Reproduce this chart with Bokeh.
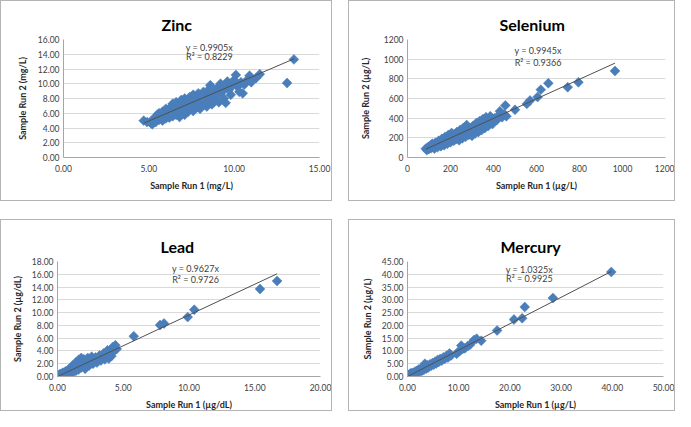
import math
from bokeh.plotting import figure
from bokeh.models import Range1d, FixedTicker, NumeralTickFormatter, Label
from bokeh.layouts import row, column
from bokeh.embed import file_html
from bokeh.resources import INLINE

# ---------------- data ----------------
zinc_x = [4.7, 4.9, 5.1, 5.2, 5.2, 5.4, 5.4, 5.5, 5.6, 5.6, 5.7, 5.8, 5.8, 5.9, 6.0, 6.0, 6.0, 6.1, 6.2, 6.2,
          6.3, 6.3, 6.4, 6.4, 6.5, 6.5, 6.6, 6.6, 6.7, 6.7, 6.8, 6.8, 6.9, 6.9, 7.0, 7.0, 7.1, 7.1, 7.2, 7.2,
          7.3, 7.4, 7.4, 7.5, 7.5, 7.6, 7.6, 7.7, 7.8, 7.8, 7.9, 8.0, 8.0, 8.1, 8.2, 8.2, 8.3, 8.4, 8.4, 8.5,
          8.5, 8.6, 8.6, 8.7, 8.8, 8.9, 9.0, 9.0, 9.1, 9.2, 9.3, 9.4, 9.4, 9.5, 9.6, 9.7, 9.8, 9.9, 10.0, 10.1,
          10.2, 10.3, 10.4, 10.5, 10.6, 10.8, 10.9, 11.0, 11.3, 11.5, 13.1, 13.5]
zinc_y = [5.0, 4.8, 4.7, 4.5, 5.1, 4.8, 5.4, 5.8, 5.1, 6.0, 5.4, 5.0, 6.2, 5.6, 5.3, 6.0, 6.6, 5.8, 6.4, 5.4,
          6.9, 6.0, 5.6, 7.3, 6.3, 6.8, 5.8, 7.5, 6.2, 7.0, 5.5, 6.6, 7.8, 6.0, 7.2, 6.4, 8.0, 5.8, 6.8, 7.5,
          6.2, 8.2, 7.0, 6.6, 7.8, 8.5, 6.3, 7.3, 8.0, 6.8, 8.7, 7.5, 6.6, 8.3, 7.1, 8.9, 7.8, 6.9, 8.5, 9.2,
          7.4, 9.8, 8.1, 7.2, 8.8, 7.8, 9.4, 8.4, 7.5, 10.0, 8.9, 9.7, 8.0, 7.4, 10.3, 9.2, 8.5, 9.8, 10.5, 11.2,
          9.6, 8.9, 10.2, 8.7, 9.9, 10.6, 11.1, 10.2, 10.8, 11.3, 10.1, 13.3]

sel_x = [85, 90, 95, 100, 105, 110, 115, 120, 125, 130, 135, 140, 145, 150, 155, 160, 165, 170, 175, 180,
         185, 190, 195, 200, 205, 210, 215, 220, 225, 230, 235, 240, 245, 250, 255, 260, 265, 270, 275, 280,
         285, 290, 295, 300, 305, 310, 315, 320, 325, 330, 335, 340, 345, 350, 355, 360, 365, 370, 375, 385,
         390, 395, 405, 415, 425, 430, 440, 450, 455, 460, 500, 555, 570, 605, 620, 655, 745, 795, 965]
sel_y = [90, 75, 105, 85, 120, 95, 140, 110, 90, 150, 125, 105, 170, 135, 115, 190, 150, 125, 210, 165,
         140, 230, 185, 155, 250, 200, 170, 240, 185, 260, 205, 175, 280, 220, 195, 300, 240, 210, 330, 260,
         230, 300, 250, 220, 320, 270, 245, 350, 290, 260, 370, 310, 280, 390, 330, 300, 410, 350, 320, 420,
         370, 340, 400, 380, 430, 470, 410, 440, 530, 420, 485, 545, 580, 615, 690, 755, 715, 765, 880]

lead_x = [0.1, 0.2, 0.2, 0.3, 0.4, 0.4, 0.5, 0.6, 0.6, 0.7, 0.8, 0.8, 0.9, 1.0, 1.0, 1.1, 1.2, 1.2, 1.3, 1.4,
          1.4, 1.5, 1.6, 1.6, 1.7, 1.8, 1.8, 1.9, 2.0, 2.0, 2.1, 2.2, 2.3, 2.4, 2.5, 2.6, 2.7, 2.8, 2.9, 3.0,
          3.1, 3.2, 3.3, 3.4, 3.5, 3.6, 3.7, 3.8, 3.9, 4.0, 4.1, 4.2, 4.3, 4.4, 4.5, 5.8, 7.8, 8.1, 9.9, 10.4,
          15.4, 16.7]
lead_y = [0.2, 0.05, 0.4, 0.2, 0.6, 0.1, 0.4, 0.8, 0.2, 0.5, 1.0, 0.3, 0.7, 1.4, 0.5, 1.0, 1.8, 0.7, 1.3, 2.2,
          0.9, 1.6, 2.6, 1.1, 2.0, 2.9, 1.4, 2.3, 1.7, 2.7, 1.2, 2.1, 2.9, 1.7, 2.4, 3.1, 2.0, 2.6, 3.0, 2.2,
          2.8, 3.3, 2.5, 3.0, 3.6, 2.7, 3.3, 4.1, 2.8, 3.6, 3.2, 4.6, 4.0, 4.9, 4.3, 6.3, 8.05, 8.3, 9.3, 10.45,
          13.7, 14.95]

hg_x = [0.1, 0.2, 0.3, 0.4, 0.5, 0.6, 0.8, 0.9, 1.0, 1.2, 1.3, 1.5, 1.6, 1.8, 2.0, 2.2, 2.4, 2.6, 2.8, 3.0,
        3.2, 3.4, 3.5, 3.7, 3.9, 4.1, 4.4, 4.6, 4.9, 5.1, 5.4, 5.6, 5.9, 6.1, 6.4, 6.7, 7.0, 7.3, 7.6, 7.9,
        8.2, 8.5, 9.6, 9.9, 10.2, 10.5, 10.8, 11.2, 11.8, 12.2, 13.0, 13.5, 14.4, 17.5, 20.8, 22.4, 22.9, 28.4,
        39.8]
hg_y = [0.2, 0.6, 0.1, 0.9, 0.4, 1.2, 0.6, 1.4, 0.9, 1.5, 0.8, 1.9, 1.3, 2.2, 1.5, 2.8, 2.0, 3.1, 2.2, 3.6,
        2.6, 5.0, 4.0, 3.1, 4.4, 3.6, 4.8, 4.2, 5.3, 4.6, 5.8, 5.1, 6.5, 5.7, 6.9, 6.2, 7.5, 6.9, 8.1, 7.4,
        9.0, 8.2, 8.9, 9.6, 10.0, 12.1, 10.8, 11.0, 12.0, 12.4, 14.3, 14.8, 14.0, 18.0, 22.3, 22.8, 27.2, 30.7,
        40.9]

titles = ["Zinc", "Selenium", "Lead", "Mercury"]
x_labels = ["Sample Run 1 (mg/L)", "Sample Run 1 (\u00b5g/L)", "Sample Run 1 (\u00b5g/dL)", "Sample Run 1 (\u00b5g/L)"]
y_labels = ["Sample Run 2 (mg/L)", "Sample Run 2 (\u00b5g/L)", "Sample Run 2 (\u00b5g/dL)", "Sample Run 2 (\u00b5g/L)"]
slopes = [0.9905, 0.9945, 0.9627, 1.0325]
eq_texts = ["y = 0.9905x", "y = 0.9945x", "y = 0.9627x", "y = 1.0325x"]
r2_texts = ["R\u00b2 = 0.8229", "R\u00b2 = 0.9366", "R\u00b2 = 0.9726", "R\u00b2 = 0.9925"]
x_ticks = [[0, 5, 10, 15], [0, 200, 400, 600, 800, 1000, 1200], [0, 5, 10, 15, 20], [0, 10, 20, 30, 40, 50]]
y_ticks = [[0, 2, 4, 6, 8, 10, 12, 14, 16], [0, 200, 400, 600, 800, 1000, 1200],
           [0, 2, 4, 6, 8, 10, 12, 14, 16, 18], [0, 5, 10, 15, 20, 25, 30, 35, 40, 45]]
formats = ["0.00", "0", "0.00", "0.00"]

# ---------------- styling / layout ----------------
FONT = "Lato"
BLUE = "#4a7ebb"
# (width, height, min_border_left, right, top, bottom, ylabel standoff)
geom = [(332, 201, 62, 14, 38, 45, 7),
        (327, 201, 58, 11, 37, 44, 10),
        (332, 192, 56, 13, 41, 31, 6),
        (327, 192, 58, 13, 41, 31, 6)]
# title offset from frame left (left aligned), and gap to frame
title_off = [(98, 11), (92, 12), (103, 11), (93, 11)]
# equation label anchor in data units
eq_pos = [(8.55, 14.9, 13.7), (607, 1090, 970), (10.5, 16.95, 15.2), (23.8, 42.0, 38.2)]

datasets = [(zinc_x, zinc_y), (sel_x, sel_y), (lead_x, lead_y), (hg_x, hg_y)]


def make_panel(i):
    xs, ys = datasets[i]
    w, h, mbl, mbr, mbt, mbb, ystand = geom[i]
    p = figure(width=w, height=h, output_backend="svg", toolbar_location=None,
               title=titles[i],
               x_range=Range1d(x_ticks[i][0], x_ticks[i][-1]),
               y_range=Range1d(y_ticks[i][0], y_ticks[i][-1]),
               min_border_left=mbl, min_border_right=mbr,
               min_border_top=mbt, min_border_bottom=mbb)
    p.styles = {"border": "1px solid #b4b4b4", "box-sizing": "border-box"}
    p.outline_line_color = None
    p.background_fill_color = "white"
    p.border_fill_color = "white"
    p.xgrid.visible = False
    p.ygrid.grid_line_color = "#d9d9d9"
    p.ygrid.grid_line_width = 1
    p.ygrid.ticker = FixedTicker(ticks=y_ticks[i])

    off, gap = title_off[i]
    p.title.align = "left"
    p.title.offset = off
    p.title.standoff = gap
    p.title.text_font = FONT
    p.title.text_font_size = "16px"
    p.title.text_font_style = "bold"
    p.title.text_color = "#000000"

    for ax, ticks in ((p.xaxis[0], x_ticks[i]), (p.yaxis[0], y_ticks[i])):
        ax.ticker = FixedTicker(ticks=ticks)
        ax.formatter = NumeralTickFormatter(format=formats[i])
        ax.major_tick_in = 0
        ax.major_tick_out = 0
        ax.minor_tick_in = 0
        ax.minor_tick_out = 0
        ax.axis_line_color = "#a6a6a6"
        ax.major_label_text_font = FONT
        ax.major_label_text_font_size = "8.5px"
        ax.major_label_text_color = "#404040"
        ax.axis_label_text_font = FONT
        ax.axis_label_text_font_size = "9px"
        ax.axis_label_text_font_style = "bold"
        ax.axis_label_text_color = "#262626"
    p.xaxis[0].axis_label = x_labels[i]
    p.yaxis[0].axis_label = y_labels[i]
    p.xaxis[0].major_label_standoff = 7
    p.xaxis[0].axis_label_standoff = 5
    p.yaxis[0].major_label_standoff = 4
    p.yaxis[0].axis_label_standoff = ystand

    p.scatter(xs, ys, marker="square", angle=math.pi / 4, size=7,
              fill_color=BLUE, line_color=BLUE, line_width=0.5)
    x0, x1 = min(xs), max(xs)
    p.line([x0, x1], [slopes[i] * x0, slopes[i] * x1], line_color="#505050", line_width=1)

    ex, ey1, ey2 = eq_pos[i]
    for txt, yy in ((eq_texts[i], ey1), (r2_texts[i], ey2)):
        p.add_layout(Label(x=ex, y=yy, text=txt, text_align="center", text_baseline="middle",
                           text_font=FONT, text_font_size="9px", text_color="#404040"))
    return p


panels = [make_panel(i) for i in range(4)]
layout = column(row(panels[0], panels[1], spacing=16),
                row(panels[2], panels[3], spacing=16), spacing=18)

open("out.html", "w").write(file_html(layout, INLINE))
